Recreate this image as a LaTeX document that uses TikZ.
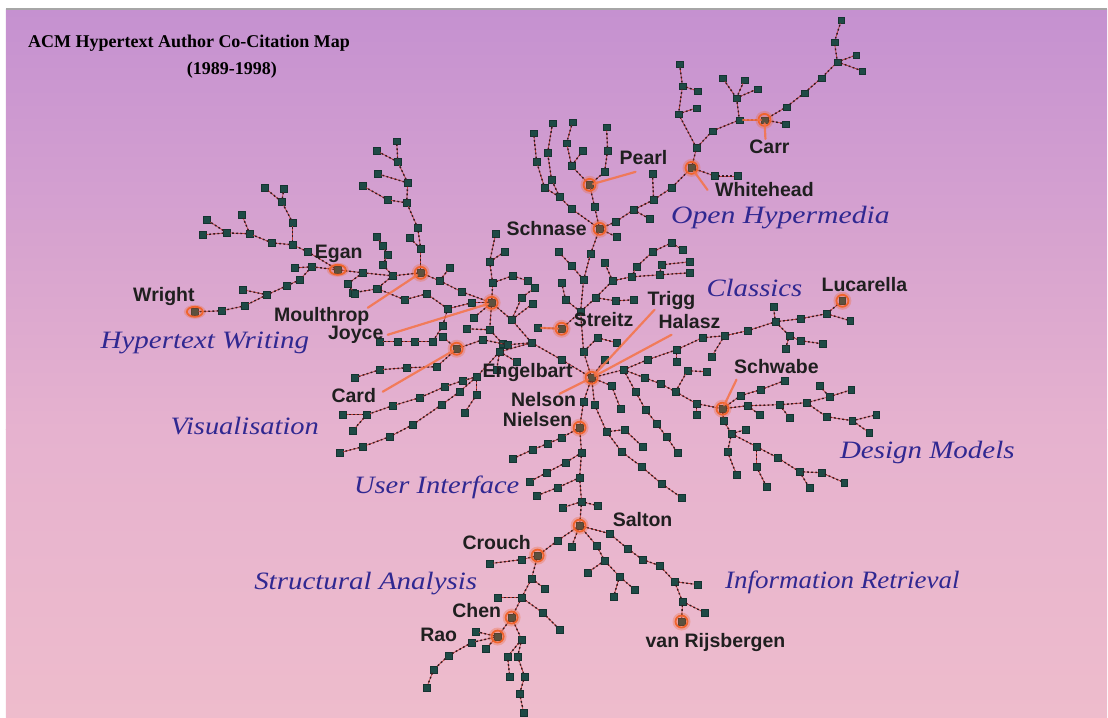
\documentclass[tikz,border=0pt]{standalone}
\usepackage{fontspec}
\setmainfont{Liberation Serif}
\newfontfamily\authfam{Liberation Sans}
\usepackage{graphicx}

\definecolor{bgtop}{RGB}{197,145,208}
\definecolor{bgmid}{RGB}{230,178,207}
\definecolor{bgbot}{RGB}{238,188,204}
\definecolor{sqcol}{RGB}{30,74,70}
\definecolor{edgedark}{RGB}{50,25,30}
\definecolor{edgered}{RGB}{190,60,55}
\definecolor{ringcol}{RGB}{240,100,45}
\definecolor{olcol}{RGB}{245,115,70}
\definecolor{catcol}{RGB}{48,40,145}

\tikzset{
  sq/.style={rectangle, fill=sqcol, draw=sqcol!70!black, line width=0.3pt,
             minimum size=6.5pt, inner sep=0pt},
  ln/.style={draw=edgered, line width=0.7pt,
             postaction={draw=edgedark, line width=1.4pt, dash pattern=on 1.8pt off 2.4pt}},
  ol/.style={draw=olcol, line width=2.2pt, opacity=0.85, line cap=round},
  hl/.style={draw=ringcol, line width=1.8pt},
  halo/.style={fill=ringcol, opacity=0.3},
  auth/.style={font=\authfam\bfseries\fontsize{19.5}{20}\selectfont, text=black!88, inner sep=1pt},
  cat/.style={font=\itshape\fontsize{25}{26}\selectfont, text=catcol, inner sep=0pt},
  ttl/.style={font=\bfseries\fontsize{18}{20}\selectfont, text=black, inner sep=0pt},
}

% \twig{start node}{prefix}{list of points}: a chain of squares <prefix>-1, <prefix>-2, ...
% hanging from the start node, each linked to the one before it
\newcommand\twig[3]{%
  \foreach \pt [count=\i, remember=\i as \j (initially 0)] in {#3} {%
    \node[sq] (#2-\i) at \pt {};
    \ifnum\j=0 \draw[ln] (#1) -- (#2-\i);\else \draw[ln] (#2-\j) -- (#2-\i);\fi
  }}

\begin{document}
\begin{tikzpicture}[x=1pt,y=-1pt]
% canvas
\fill[white] (0,0) rectangle (1108,718);
\shade[top color=bgtop, bottom color=bgmid] (6,10) rectangle (1108,430);
\shade[top color=bgmid, bottom color=bgbot] (6,429.5) rectangle (1108,718);
\draw[black!35, line width=1.6pt] (6,9.2) -- (1108,9.2);
\useasboundingbox (0,0) rectangle (1108,718);

% title
\node[ttl, anchor=west] (title) at (28,43) {ACM Hypertext Author Co-Citation Map};
\node[ttl] (years) at (232,70) {(1989-1998)};

% highlighted authors
\foreach \n/\x/\y in {engelbart/592/378, schnase/600/229, pearl/590/185, whitehead/692/168,
  carr/765/120, egan/338/270, wright/195/312, moulthrop/421/273, joyce/492/303, card/457/349,
  streitz/562/329, nielsen/580/428, salton/580/526, crouch/538/556, chen/512/618, rao/498/637,
  vanr/682/622, schwabe/723/409, lucarella/843/301}
  \node[sq] (\n) at (\x,\y) {};

% trunk up to Schnase
\twig{engelbart}{t}{(584,352),(581,312),(584,280),(591,254)}
\draw[ln] (t-4) -- (schnase);
\draw[ln] (t-2) -- (streitz);
\twig{streitz}{s}{(538,328)}
\twig{t-3}{ta}{(572,266),(559,252)}
\twig{t-2}{tb}{(566,300),(562,283)}
\twig{t-1}{tc}{(598,338),(617,343)}

% Schnase - Whitehead - Carr
\twig{schnase}{w}{(616,222),(634,210),(654,200),(672,188)}
\draw[ln] (w-4) -- (whitehead);
\twig{w-2}{wa}{(650,219)}
\twig{w-3}{wb}{(653,174)}
\twig{schnase}{wc}{(617,237)}
\twig{whitehead}{wd}{(715,176),(738,176)}
\twig{whitehead}{c}{(697,148),(713,131),(740,120)}
\draw[ln] (c-3) -- (carr);
\twig{carr}{ca}{(787,107),(805,93),(822,78),(838,62),(835,42),(842,20)}
\twig{ca-4}{cb}{(857,55)}
\twig{ca-4}{cc}{(863,71)}
\twig{carr}{cd}{(786,124)}
\twig{c-3}{ce}{(737,98),(723,78)}
\twig{ce-1}{cf}{(745,80)}
\twig{ce-1}{cg}{(758,89)}
\twig{c-1}{ch}{(679,114),(683,86),(680,64)}
\twig{ch-2}{ci}{(698,91)}
\twig{ch-1}{cj}{(697,108)}

% Pearl
\twig{schnase}{p}{(595,207)}
\draw[ln] (p-1) -- (pearl);
\twig{pearl}{pa}{(572,166),(567,143),(573,122)}
\twig{pearl}{pb}{(605,172),(608,151),(607,127)}
\twig{schnase}{pc}{(572,209),(560,197),(545,188),(537,162),(534,133)}
\twig{pc-2}{pd}{(552,180),(548,153),(553,123)}
\twig{pa-1}{pf}{(583,151)}

% Joyce
\twig{engelbart}{j}{(562,360),(532,343),(512,320)}
\draw[ln] (j-3) -- (joyce);
\twig{moulthrop}{m}{(440,281),(462,292)}
\draw[ln] (m-2) -- (joyce);
\twig{m-1}{mb}{(450,268)}
\twig{joyce}{ja}{(472,303),(448,309),(427,294),(405,300),(378,289),(353,293)}
\twig{ja-2}{je}{(443,326),(433,342),(415,342),(398,342),(380,342)}
\twig{joyce}{jb}{(493,283),(490,262),(496,234)}
\twig{jb-1}{jk}{(513,276),(528,281)}
\twig{jb-2}{jl}{(505,252)}
\twig{joyce}{jf}{(490,330),(503,344)}
\twig{joyce}{jh}{(474,318)}
\twig{j-3}{jm}{(522,298),(535,288)}
\twig{j-3}{jn}{(533,304)}
\twig{jf-1}{jo}{(467,329)}

% Moulthrop upwards
\twig{moulthrop}{mu}{(421,249),(418,228),(407,203),(408,183),(398,162),(397,141)}
\twig{mu-3}{mw}{(388,200),(363,186)}
\twig{mu-4}{mx}{(378,174)}
\twig{mu-5}{my}{(377,151)}
\twig{mu-1}{mz}{(410,238)}

% Egan and Wright
\twig{moulthrop}{e}{(393,276),(363,273)}
\draw[ln] (e-2) -- (egan);
\twig{e-1}{ea}{(383,265),(388,255),(383,246),(377,237)}
\twig{e-1}{ec}{(377,289)}
\twig{e-2}{eb}{(348,284),(355,294)}
\twig{egan}{ed}{(312,267),(300,280),(287,286),(267,295),(245,306),(222,311)}
\draw[ln] (ed-6) -- (wright);
\twig{ed-1}{ee}{(295,268)}
\twig{ed-4}{ef}{(243,290)}
\twig{egan}{eg}{(308,252),(293,245),(293,223),(282,202),(265,188)}
\twig{eg-2}{eh}{(272,243),(250,234),(227,233),(203,235)}
\twig{eh-2}{ei}{(242,215)}
\twig{eh-3}{ej}{(207,220)}
\twig{eg-4}{ek}{(284,189)}

% Card and the visualisation fan
\twig{j-2}{la}{(508,345),(483,340)}
\draw[ln] (la-2) -- (card);
\twig{card}{cr}{(437,367),(407,368),(380,370),(355,378)}
\twig{card}{cs}{(443,337)}
\twig{j-2}{lb}{(500,352),(477,377),(460,392),(442,405),(413,425),(390,437),(363,447),(340,453)}
\twig{lb-2}{lc}{(463,381),(445,387),(420,398),(393,406),(367,415),(343,415)}
\twig{lb-2}{lg}{(477,395),(465,413)}
\twig{lc-5}{li}{(353,431)}
\twig{lb-1}{lf}{(497,370)}
\twig{lb-1}{lk}{(517,362)}

% Classics and Lucarella
\twig{engelbart}{h}{(624,370)}
\twig{h-1}{k}{(648,360),(677,350),(703,338),(725,336),(748,331),(776,322)}
\twig{k-6}{ka}{(801,319),(827,314)}
\draw[ln] (ka-2) -- (lucarella);
\twig{ka-2}{kb}{(851,321)}
\twig{k-6}{kc}{(774,307)}
\twig{k-6}{ke}{(790,336),(801,341),(823,344)}
\twig{ke-1}{kf}{(786,349)}
\twig{k-4}{kg}{(712,357)}
\twig{k-2}{kh}{(677,362)}

% cluster below Trigg
\twig{t-2}{ua}{(596,298),(613,281),(632,277),(660,275),(690,273)}
\twig{ua-4}{ub}{(662,265),(690,262)}
\twig{ua-3}{uc}{(637,267),(653,252),(672,243)}
\twig{uc-3}{ud}{(683,250)}
\twig{ua-2}{ue}{(605,263)}
\twig{ua-1}{uf}{(616,301),(634,300)}

% Schwabe and design models
\twig{h-1}{sw}{(645,378),(661,384),(676,392),(697,404)}
\draw[ln] (sw-4) -- (schwabe);
\twig{sw-4}{swa}{(697,415)}
\twig{sw-3}{swc}{(688,371),(707,372)}
\twig{schwabe}{sa}{(741,396),(761,390),(785,381)}
\twig{schwabe}{sb}{(748,406),(780,405),(807,403),(830,397),(852,390)}
\twig{sb-1}{sc}{(760,415)}
\twig{sb-2}{sdt}{(790,418)}
\twig{sb-4}{sf}{(820,386)}
\twig{sb-3}{sg}{(827,417),(853,421),(877,415)}
\twig{sg-2}{sh}{(870,433)}
\twig{schwabe}{sd}{(724,421),(732,434),(757,447),(778,458),(800,472),(822,473),(845,483)}
\twig{sd-2}{sda}{(728,452),(737,475)}
\twig{sd-3}{sdb}{(757,467),(767,487)}
\twig{sd-5}{sdc}{(810,488)}
\twig{sd-2}{sdg}{(746,430)}

% radials to the lower right
\twig{engelbart}{q}{(595,405),(607,432),(622,452),(642,467),(662,484),(682,498)}
\twig{q-2}{qb}{(625,430),(643,447)}
\twig{h-1}{r}{(636,392),(646,410),(657,424),(667,437),(678,453)}
\twig{engelbart}{x}{(605,360)}
\twig{engelbart}{xa}{(612,386)}
\twig{xa-1}{xb}{(621,409)}

% Nielsen and the stem down to Salton
\twig{engelbart}{n}{(584,402)}
\draw[ln] (n-1) -- (nielsen);
\twig{nielsen}{d}{(582,453),(580,478),(582,502)}
\draw[ln] (d-3) -- (salton);
\twig{nielsen}{da}{(562,438),(548,444),(533,450),(513,459)}
\twig{d-1}{dd}{(566,463),(547,473),(530,482)}
\twig{d-2}{de}{(558,488),(537,496)}
\twig{d-3}{df}{(563,508)}
\twig{d-3}{dg}{(598,506)}

% information retrieval
\twig{salton}{vr}{(610,534),(628,549),(643,560),(660,566),(675,582),(683,602)}
\draw[ln] (vr-6) -- (vanr);
\twig{vr-5}{vra}{(698,585)}
\twig{vr-6}{vrb}{(705,613)}
\twig{salton}{sl}{(597,546),(605,561),(620,577),(635,590)}
\twig{sl-2}{sla}{(588,573)}
\twig{sl-3}{slb}{(614,597)}
\twig{salton}{sm}{(572,547)}

% structural analysis
\twig{salton}{cu}{(558,541)}
\draw[ln] (cu-1) -- (crouch);
\twig{crouch}{cua}{(522,560),(490,564)}
\twig{crouch}{cv}{(532,579),(522,598)}
\draw[ln] (cv-2) -- (chen);
\twig{cv-1}{cva}{(545,589)}
\twig{cv-2}{cvb}{(498,598)}
\twig{cv-2}{cvc}{(543,613),(560,630)}
\draw[ln] (chen) -- (rao);
\twig{rao}{ra}{(472,643),(449,656),(434,670),(427,688)}
\twig{rao}{rb}{(476,632)}
\twig{rao}{rd}{(486,649)}
\twig{chen}{cn}{(522,640),(518,657),(525,677),(520,694),(524,713)}
\twig{cn-1}{cna}{(508,657),(510,677)}

% highlight rings
\foreach \n in {engelbart, schnase, pearl, whitehead, carr, moulthrop, joyce, card, streitz,
  nielsen, salton, crouch, chen, rao, vanr, schwabe, lucarella} {
  \fill[halo] (\n.center) circle[radius=9pt];
  \draw[hl] (\n.center) circle[radius=6pt];
}
\foreach \n in {egan, wright} {
  \fill[halo] (\n.center) ellipse[x radius=11pt, y radius=7pt];
  \draw[hl] (\n.center) ellipse[x radius=8pt, y radius=5pt];
}

% author labels
\node[auth] (wrightlab) at (164,297) {Wright};
\node[auth] (eganlab) at (339,254) {Egan};
\node[auth] (moulthroplab) at (322,317) {Moulthrop};
\node[auth] (joycelab) at (356,335) {Joyce};
\node[auth] (cardlab) at (354,396) {Card};
\node[auth] (schnaselab) at (547,229) {Schnase};
\node[auth] (pearllab) at (644,158) {Pearl};
\node[auth] (carrlab) at (770,147) {Carr};
\node[auth] (whiteheadlab) at (765,190) {Whitehead};
\node[auth] (streitzlab) at (604,320) {Streitz};
\node[auth] (trigglab) at (672,301) {Trigg};
\node[auth] (halaszlab) at (690,322) {Halasz};
\node[auth] (engelbartlab) at (528,373) {Engelbart};
\node[auth] (nelsonlab) at (544,400) {Nelson};
\node[auth] (nielsenlab) at (538,420) {Nielsen};
\node[auth] (lucarellalab) at (865,285) {Lucarella};
\node[auth] (schwabelab) at (777,367) {Schwabe};
\node[auth] (saltonlab) at (643,520) {Salton};
\node[auth] (crouchlab) at (497,543) {Crouch};
\node[auth] (chenlab) at (477,611) {Chen};
\node[auth] (raolab) at (439,635) {Rao};
\node[auth] (vanrlab) at (716,643) {van Rijsbergen};

% leader lines from labels to their nodes
\coordinate (pearl-tip) at (636,172);
\coordinate (whitehead-tip) at (708,190);
\coordinate (carr-tip) at (766,139);
\coordinate (schwabe-tip) at (737,380);
\coordinate (moulthrop-tip) at (368,308);
\coordinate (joyce-tip) at (388,335);
\coordinate (card-tip) at (383,392);
\coordinate (trigg-tip) at (655,310);
\coordinate (halasz-tip) at (672,335);
\coordinate (nelson-tip) at (560,394);
\draw[ol] (pearl) -- (pearl-tip);
\draw[ol] (whitehead) -- (whitehead-tip);
\draw[ol] (carr) -- (carr-tip);
\draw[ol] (c-3) -- (carr);
\draw[ol] (schwabe) -- (schwabe-tip);
\draw[ol] (moulthrop) -- (moulthrop-tip);
\draw[ol] (joyce) -- (joyce-tip);
\draw[ol] (card) -- (card-tip);
\draw[ol] (streitz) -- (s-1);
\draw[ol] (trigg-tip) -- (engelbart);
\draw[ol] (halasz-tip) -- (engelbart);
\draw[ol] (nelson-tip) -- (engelbart);

% subject areas
\node[cat] (cat-oh) at (781,218) {\scalebox{1.19}[1]{Open Hypermedia}};
\node[cat] (cat-cl) at (755,288) {\scalebox{1.15}[1]{Classics}};
\node[cat] (cat-hw) at (205,343) {\scalebox{1.16}[1]{Hypertext Writing}};
\node[cat] (cat-vi) at (245,426) {\scalebox{1.14}[1]{Visualisation}};
\node[cat] (cat-ui) at (437,488) {\scalebox{1.14}[1]{User Interface}};
\node[cat] (cat-dm) at (928,453) {\scalebox{1.16}[1]{Design Models}};
\node[cat] (cat-sa) at (366,584) {\scalebox{1.16}[1]{Structural Analysis}};
\node[cat] (cat-ir) at (843,583) {\scalebox{1.08}[1]{Information Retrieval}};
\end{tikzpicture}
\end{document}
